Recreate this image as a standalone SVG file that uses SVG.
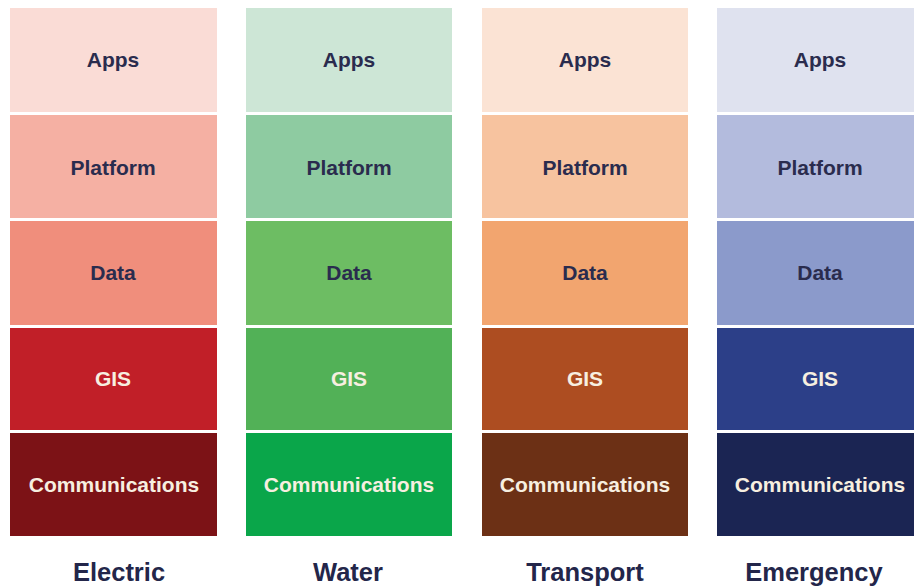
<svg xmlns="http://www.w3.org/2000/svg" width="914" height="586" viewBox="0 0 914 586">
<style>
.t{font-family:"Liberation Sans",Arial,sans-serif;font-weight:bold;font-size:21px;text-anchor:middle}
.d{fill:#2a2c4e}
.l{fill:#f7efe0}
.lbl{font-family:"Liberation Sans",Arial,sans-serif;font-weight:bold;font-size:25.5px;text-anchor:middle;fill:#23264a}
</style>
<rect width="914" height="586" fill="#ffffff"/>
<g id="electric">
<rect x="10" y="8" width="207" height="104" fill="#fadcd6"/>
<rect x="10" y="115" width="207" height="103" fill="#f5b0a3"/>
<rect x="10" y="221" width="207" height="104" fill="#f08e7c"/>
<rect x="10" y="328" width="207" height="102" fill="#c11f28"/>
<rect x="10" y="433" width="207" height="103" fill="#7c1216"/>
<text class="t d" x="113" y="67">Apps</text>
<text class="t d" x="113" y="175">Platform</text>
<text class="t d" x="113" y="280">Data</text>
<text class="t l" x="113" y="386">GIS</text>
<text class="t l" x="114" y="492">Communications</text>
<text class="lbl" x="119" y="581">Electric</text>
</g>
<g id="water">
<rect x="246" y="8" width="206" height="104" fill="#cde6d6"/>
<rect x="246" y="115" width="206" height="103" fill="#8ecba1"/>
<rect x="246" y="221" width="206" height="104" fill="#6dbd63"/>
<rect x="246" y="328" width="206" height="102" fill="#52b157"/>
<rect x="246" y="433" width="206" height="103" fill="#0aa64a"/>
<text class="t d" x="349" y="67">Apps</text>
<text class="t d" x="349" y="175">Platform</text>
<text class="t d" x="349" y="280">Data</text>
<text class="t l" x="349" y="386">GIS</text>
<text class="t l" x="349" y="492">Communications</text>
<text class="lbl" x="348" y="581">Water</text>
</g>
<g id="transport">
<rect x="482" y="8" width="206" height="104" fill="#fbe3d4"/>
<rect x="482" y="115" width="206" height="103" fill="#f7c39f"/>
<rect x="482" y="221" width="206" height="104" fill="#f2a56f"/>
<rect x="482" y="328" width="206" height="102" fill="#ad4d21"/>
<rect x="482" y="433" width="206" height="103" fill="#6c3015"/>
<text class="t d" x="585" y="67">Apps</text>
<text class="t d" x="585" y="175">Platform</text>
<text class="t d" x="585" y="280">Data</text>
<text class="t l" x="585" y="386">GIS</text>
<text class="t l" x="585" y="492">Communications</text>
<text class="lbl" x="585" y="581">Transport</text>
</g>
<g id="emergency">
<rect x="717" y="8" width="197" height="104" fill="#dfe2ef"/>
<rect x="717" y="115" width="197" height="103" fill="#b3bbdd"/>
<rect x="717" y="221" width="197" height="104" fill="#8b9acb"/>
<rect x="717" y="328" width="197" height="102" fill="#2c3f88"/>
<rect x="717" y="433" width="197" height="103" fill="#1b2553"/>
<text class="t d" x="820" y="67">Apps</text>
<text class="t d" x="820" y="175">Platform</text>
<text class="t d" x="820" y="280">Data</text>
<text class="t l" x="820" y="386">GIS</text>
<text class="t l" x="820" y="492">Communications</text>
<text class="lbl" x="814" y="581">Emergency</text>
</g>
<g id="connectors"/>
</svg>
